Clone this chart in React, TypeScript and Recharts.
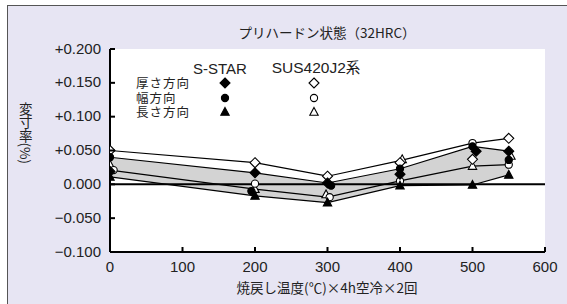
import React from 'react';
import {
  ComposedChart,
  XAxis,
  YAxis,
  Area,
  Line,
  Scatter,
  ReferenceLine,
  CartesianGrid,
} from 'recharts';

// ---- data ----
const temps = [0, 200, 300, 400, 500, 550];
const xTicks = [0, 100, 200, 300, 400, 500, 600];
const yTicks = [-0.1, -0.05, 0, 0.05, 0.1, 0.15, 0.2];

// envelope lines
const sstarUpper = [0.04, 0.017, 0.002, 0.023, 0.056, 0.049];
const sstarLower = [0.011, -0.017, -0.027, -0.002, -0.001, 0.014];
const susUpper = [0.05, 0.032, 0.012, 0.035, 0.061, 0.068];
const susLower = [0.021, -0.007, -0.019, 0.005, 0.027, 0.029];

// measured points: S-STAR (filled)
const sstarThickX = [0, 200, 300, 400, 505, 550];
const sstarThick = [0.019, 0.017, 0.002, 0.015, 0.049, 0.049];
const sstarWidthX = [0, 195, 305, 400, 500, 550];
const sstarWidth = [0.04, -0.01, -0.002, 0.023, 0.056, 0.036];
const sstarLengthX = [0, 200, 300, 400, 500, 550];
const sstarLength = [0.011, -0.017, -0.027, -0.002, -0.001, 0.014];

// SUS420J2 (open)
const susThickX = [0, 200, 300, 400, 500, 550];
const susThick = [0.05, 0.032, 0.012, 0.032, 0.037, 0.068];
const susWidthX = [5, 200, 303, 400, 500, 550];
const susWidth = [0.021, 0.001, -0.019, 0.005, 0.061, 0.029];
const susLengthX = [0, 200, 298, 403, 500, 553];
const susLength = [0.029, -0.007, -0.015, 0.037, 0.027, 0.042];

const legendRows = ['厚さ方向', '幅方向', '長さ方向'];

const fmtY = (v: number) => {
  const s = Math.abs(v).toFixed(3);
  if (Math.abs(v) < 1e-9) return '0.000';
  return v > 0 ? '+' + s : '\u2212' + s;
};

const pts = (xs: number[], ys: number[]) => xs.map((x, i) => ({ x, y: ys[i] }));
const lineData = (ys: number[]) => temps.map((x, i) => ({ x, y: ys[i] }));
const bandData = temps.map((x, i) => ({ x, band: [sstarLower[i], sstarUpper[i]] }));

const NUM_FONT = '"Liberation Sans", Arial, sans-serif';
const JP_FONT = '"Noto Sans CJK JP", "Liberation Sans", sans-serif';

// ---- marker shapes ----
const Diamond = ({ cx, cy, fill }: any) => (
  <path
    d={`M${cx},${cy - 5} L${cx + 5},${cy} L${cx},${cy + 5} L${cx - 5},${cy} Z`}
    fill={fill}
    stroke="#000"
    strokeWidth={1.1}
  />
);
const Circle = ({ cx, cy, fill }: any) => (
  <circle cx={cx} cy={cy} r={3.6} fill={fill} stroke="#000" strokeWidth={1.1} />
);
const Triangle = ({ cx, cy, fill }: any) => (
  <path
    d={`M${cx},${cy - 4.5} L${cx + 4.2},${cy + 3.3} L${cx - 4.2},${cy + 3.3} Z`}
    fill={fill}
    stroke="#000"
    strokeWidth={1.1}
  />
);

// ---- ticks ----
const BottomTick = ({ x, y, payload }: any) => (
  <g>
    <line x1={x} x2={x} y1={y} y2={y - 5} stroke="#000" strokeWidth={2} />
    <text
      x={x}
      y={y + 14}
      textAnchor="middle"
      dominantBaseline="central"
      fontFamily={NUM_FONT}
      fontSize={15}
      fill="#222"
    >
      {payload.value}
    </text>
  </g>
);
const TopTick = ({ x, y }: any) => (
  <line x1={x} x2={x} y1={y} y2={y + 5} stroke="#000" strokeWidth={2} />
);
const LeftTick = ({ x, y, payload }: any) => (
  <g>
    <line x1={x} x2={x + 5} y1={y} y2={y} stroke="#000" strokeWidth={2} />
    <text
      x={x - 9}
      y={y - 1}
      textAnchor="end"
      dominantBaseline="central"
      fontFamily={NUM_FONT}
      fontSize={15}
      fill="#222"
    >
      {fmtY(payload.value)}
    </text>
  </g>
);
const RightTick = ({ x, y }: any) => (
  <line x1={x} x2={x - 5} y1={y} y2={y} stroke="#000" strokeWidth={2} />
);

const abs = (left: number, top: number, extra: React.CSSProperties = {}): React.CSSProperties => ({
  position: 'absolute',
  left,
  top,
  transform: 'translate(-50%, -50%)',
  whiteSpace: 'nowrap',
  fontFamily: JP_FONT,
  fontSize: 13.5,
  color: '#222',
  lineHeight: 1,
  ...extra,
});

export default function App() {
  return (
    <div
      style={{
        position: 'absolute',
        left: 0,
        top: 0,
        width: 567,
        height: 304,
        overflow: 'hidden',
        background: '#fff',
      }}
    >
      <div
        style={{
          position: 'absolute',
          left: 7,
          top: 5,
          width: 620,
          height: 400,
          border: '1.5px solid #555',
          background: '#e7e5f3',
        }}
      />
      <div style={{ position: 'absolute', left: 0, top: 0 }}>
        <ComposedChart
          width={567}
          height={304}
          margin={{ top: 49, right: 22, bottom: 0, left: 0 }}
        >
          <CartesianGrid fill="#fff" horizontal={false} vertical={false} />
          <XAxis
            type="number"
            dataKey="x"
            domain={[0, 600]}
            ticks={xTicks}
            allowDataOverflow
            height={52}
            tickSize={0}
            tickMargin={0}
            tickLine={false}
            axisLine={{ stroke: '#000', strokeWidth: 2 }}
            tick={<BottomTick />}
            interval={0}
          />
          <XAxis
            xAxisId="top"
            orientation="top"
            type="number"
            dataKey="x"
            domain={[0, 600]}
            ticks={xTicks}
            height={0}
            tickSize={0}
            tickMargin={0}
            tickLine={false}
            axisLine={{ stroke: '#000', strokeWidth: 2 }}
            tick={<TopTick />}
            interval={0}
          />
          <YAxis
            type="number"
            domain={[-0.1, 0.2]}
            ticks={yTicks}
            allowDataOverflow
            width={110}
            tickSize={0}
            tickMargin={0}
            tickLine={false}
            axisLine={{ stroke: '#000', strokeWidth: 2 }}
            tick={<LeftTick />}
            interval={0}
          />
          <YAxis
            yAxisId="right"
            orientation="right"
            type="number"
            domain={[-0.1, 0.2]}
            ticks={yTicks}
            width={0}
            tickSize={0}
            tickMargin={0}
            tickLine={false}
            axisLine={{ stroke: '#000', strokeWidth: 2 }}
            tick={<RightTick />}
            interval={0}
          />
          <Area
            data={bandData}
            dataKey="band"
            type="linear"
            fill="#d3d3d3"
            fillOpacity={1}
            stroke="none"
            isAnimationActive={false}
            activeDot={false}
          />
          <ReferenceLine y={0} stroke="#000" strokeWidth={2} />
          <Line data={lineData(susUpper)} dataKey="y" type="linear" stroke="#000" strokeWidth={1.2} dot={false} isAnimationActive={false} />
          <Line data={lineData(sstarUpper)} dataKey="y" type="linear" stroke="#000" strokeWidth={1.2} dot={false} isAnimationActive={false} />
          <Line data={lineData(susLower)} dataKey="y" type="linear" stroke="#000" strokeWidth={1.2} dot={false} isAnimationActive={false} />
          <Line data={lineData(sstarLower)} dataKey="y" type="linear" stroke="#000" strokeWidth={1.2} dot={false} isAnimationActive={false} />
          <Scatter data={pts(susLengthX, susLength)} dataKey="y" shape={<Triangle fill="#fff" />} isAnimationActive={false} />
          <Scatter data={pts(susWidthX, susWidth)} dataKey="y" shape={<Circle fill="#fff" />} isAnimationActive={false} />
          <Scatter data={pts(susThickX, susThick)} dataKey="y" shape={<Diamond fill="#fff" />} isAnimationActive={false} />
          <Scatter data={pts(sstarLengthX, sstarLength)} dataKey="y" shape={<Triangle fill="#000" />} isAnimationActive={false} />
          <Scatter data={pts(sstarWidthX, sstarWidth)} dataKey="y" shape={<Circle fill="#000" />} isAnimationActive={false} />
          <Scatter data={pts(sstarThickX, sstarThick)} dataKey="y" shape={<Diamond fill="#000" />} isAnimationActive={false} />
        </ComposedChart>
      </div>

      {/* title */}
      <div style={abs(327, 33)}>プリハードン状態（32HRC）</div>
      {/* x label */}
      <div style={abs(327, 288)}>焼戻し温度(℃)×4h空冷×2回</div>
      {/* y label */}
      <div
        style={abs(25, 133, {
          writingMode: 'vertical-rl',
          textOrientation: 'mixed',
          fontSize: 13.5,
        })}
      >
        変寸率(%)
      </div>

      {/* legend */}
      <div style={abs(220, 68, { fontFamily: NUM_FONT, fontSize: 15 })}>S-STAR</div>
      <div style={abs(316, 68, { fontFamily: NUM_FONT, fontSize: 15.5 })}>
        SUS420J2<span style={{ fontFamily: JP_FONT, fontSize: 14.5 }}>系</span>
      </div>
      <div
        style={{
          position: 'absolute',
          left: 136,
          top: 76,
          fontFamily: JP_FONT,
          fontSize: 12.5,
          letterSpacing: 1,
          lineHeight: '14.5px',
          color: '#222',
          whiteSpace: 'pre',
        }}
      >
        {legendRows.join('\n')}
      </div>
      <svg
        width={567}
        height={304}
        style={{ position: 'absolute', left: 0, top: 0, pointerEvents: 'none' }}
      >
        <Diamond cx={225} cy={83} fill="#000" />
        <Circle cx={225} cy={98} fill="#000" />
        <Triangle cx={225} cy={112} fill="#000" />
        <Diamond cx={314} cy={83} fill="#fff" />
        <Circle cx={314} cy={98} fill="#fff" />
        <Triangle cx={314} cy={112} fill="#fff" />
      </svg>
    </div>
  );
}
